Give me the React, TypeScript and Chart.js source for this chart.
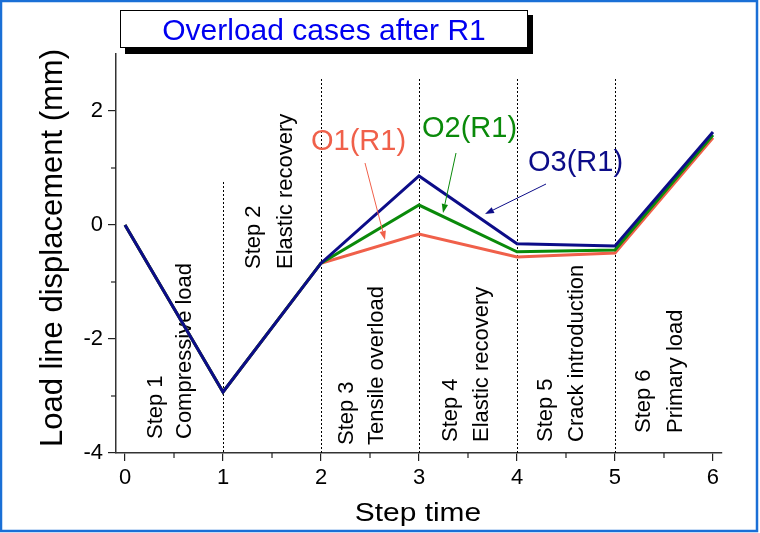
import React, { useEffect, useRef } from "react";
import { Chart, registerables } from "chart.js";

Chart.register(...registerables);

// ---- data ----
const stepTimes = [0, 1, 2, 3, 4, 5, 6];
const o1Values = [0, -2.93, -0.67, -0.16, -0.56, -0.49, 1.53];
const o2Values = [0, -2.93, -0.67, 0.35, -0.47, -0.44, 1.58];
const o3Values = [0, -2.93, -0.67, 0.86, -0.33, -0.37, 1.63];
const xTickValues = [0, 1, 2, 3, 4, 5, 6];
const yTickValues = [-4, -2, 0, 2];
const stepNumbers = ["Step 1", "Step 2", "Step 3", "Step 4", "Step 5", "Step 6"];
const stepNames = [
  "Compressive load",
  "Elastic recovery",
  "Tensile overload",
  "Elastic recovery",
  "Crack introduction",
  "Primary load",
];
const seriesNames = ["O1(R1)", "O2(R1)", "O3(R1)"];
const chartTitle = "Overload cases after R1";
const xTitle = "Step time";
const yTitle = "Load line displacement (mm)";
const dividerSteps = [1, 2, 3, 4, 5];

// ---- layout / style (pixels) ----
const COLORS = { o1: "#f0604a", o2: "#0a8a0a", o3: "#0c0c88", title: "#0000f0", frame: "#1a6fd6" };
const FONT = "Arial, 'Liberation Sans', sans-serif";
// rotated step labels: [line1 baseline x, line2 baseline x, start y]
const stepLabelPos = [
  [162, 191, 439],
  [260, 292, 269],
  [353, 383, 445],
  [457, 488, 442],
  [552, 583, 442],
  [650, 682, 433],
];
const dividerTop = [182, 79, 79, 79, 79];
// annotation text positions [x, baseline y] and arrows [x1,y1,x2,y2]
const seriesLabelPos = [
  [311, 150],
  [422, 137],
  [528, 171],
];
const seriesArrows = [
  [365, 163, 385, 240],
  [456, 153, 443, 213],
  [546, 184, 485, 214],
];

function arrow(ctx: CanvasRenderingContext2D, x1: number, y1: number, x2: number, y2: number, color: string) {
  const ang = Math.atan2(y2 - y1, x2 - x1);
  const hl = 9, hw = 3.2;
  ctx.save();
  ctx.strokeStyle = color;
  ctx.fillStyle = color;
  ctx.lineWidth = 1;
  ctx.beginPath();
  ctx.moveTo(x1, y1);
  ctx.lineTo(x2 - hl * Math.cos(ang), y2 - hl * Math.sin(ang));
  ctx.stroke();
  ctx.beginPath();
  ctx.moveTo(x2, y2);
  ctx.lineTo(x2 - hl * Math.cos(ang) + hw * Math.sin(ang), y2 - hl * Math.sin(ang) - hw * Math.cos(ang));
  ctx.lineTo(x2 - hl * Math.cos(ang) - hw * Math.sin(ang), y2 - hl * Math.sin(ang) + hw * Math.cos(ang));
  ctx.closePath();
  ctx.fill();
  ctx.restore();
}

function rotText(ctx: CanvasRenderingContext2D, text: string, x: number, y: number, font: string, color: string) {
  ctx.save();
  ctx.translate(x, y);
  ctx.rotate(-Math.PI / 2);
  ctx.font = font;
  ctx.fillStyle = color;
  ctx.textAlign = "left";
  ctx.textBaseline = "alphabetic";
  ctx.fillText(text, 0, 0);
  ctx.restore();
}

const decorPlugin = {
  id: "decor",
  beforeDatasetsDraw(chart: any) {
    const ctx: CanvasRenderingContext2D = chart.ctx;
    const xs = chart.scales.x;
    const ys = chart.scales.y;
    const bottom = chart.chartArea.bottom;
    // dotted dividers
    ctx.save();
    ctx.strokeStyle = "#000";
    ctx.lineWidth = 1;
    ctx.setLineDash([2, 2]);
    dividerSteps.forEach((s, i) => {
      const x = Math.round(xs.getPixelForValue(s)) + 0.5;
      ctx.beginPath();
      ctx.moveTo(x, dividerTop[i]);
      ctx.lineTo(x, bottom);
      ctx.stroke();
    });
    ctx.restore();
    // minor ticks
    ctx.save();
    ctx.strokeStyle = "#222";
    ctx.lineWidth = 1.2;
    for (let v = 0.5; v < 6; v += 1) {
      const x = xs.getPixelForValue(v);
      ctx.beginPath();
      ctx.moveTo(x, bottom);
      ctx.lineTo(x, bottom + 5);
      ctx.stroke();
    }
    [-3, -1, 1].forEach((v) => {
      const y = ys.getPixelForValue(v);
      const l = chart.chartArea.left;
      ctx.beginPath();
      ctx.moveTo(l, y);
      ctx.lineTo(l - 5, y);
      ctx.stroke();
    });
    ctx.restore();
    // step labels
    stepNumbers.forEach((t, i) => {
      const p = stepLabelPos[i];
      rotText(ctx, t, p[0], p[2], `22px ${FONT}`, "#000");
      rotText(ctx, stepNames[i], p[1], p[2], `22px ${FONT}`, "#000");
    });
  },
  afterDatasetsDraw(chart: any) {
    const ctx: CanvasRenderingContext2D = chart.ctx;
    const cols = [COLORS.o1, COLORS.o2, COLORS.o3];
    seriesNames.forEach((n, i) => {
      ctx.save();
      ctx.font = `29px ${FONT}`;
      ctx.fillStyle = cols[i];
      ctx.textAlign = "left";
      ctx.textBaseline = "alphabetic";
      ctx.fillText(n, seriesLabelPos[i][0], seriesLabelPos[i][1]);
      ctx.restore();
      const a = seriesArrows[i];
      arrow(ctx, a[0], a[1], a[2], a[3], cols[i]);
    });
    // axis titles
    ctx.save();
    ctx.translate(418, 521);
    ctx.scale(1.15, 1);
    ctx.font = `26px ${FONT}`;
    ctx.fillStyle = "#000";
    ctx.textAlign = "center";
    ctx.textBaseline = "alphabetic";
    ctx.fillText(xTitle, 0, 0);
    ctx.restore();
    ctx.save();
    ctx.translate(62, 248);
    ctx.rotate(-Math.PI / 2);
    ctx.font = `31px ${FONT}`;
    ctx.fillStyle = "#000";
    ctx.textAlign = "center";
    ctx.textBaseline = "alphabetic";
    ctx.fillText(yTitle, 0, 0);
    ctx.restore();
    // title box
    ctx.save();
    ctx.fillStyle = "#000";
    ctx.fillRect(125, 15, 408, 39);
    ctx.fillStyle = "#fff";
    ctx.fillRect(120, 10, 408, 38);
    ctx.strokeStyle = "#000";
    ctx.lineWidth = 1;
    ctx.strokeRect(120.5, 10.5, 407, 37);
    ctx.font = `30px ${FONT}`;
    ctx.fillStyle = COLORS.title;
    ctx.textAlign = "center";
    ctx.textBaseline = "alphabetic";
    ctx.fillText(chartTitle, 324, 40);
    ctx.restore();
    // outer frame
    ctx.save();
    ctx.strokeStyle = COLORS.frame;
    ctx.lineWidth = 2.5;
    ctx.strokeRect(1, 1, 756, 530);
    ctx.restore();
  },
};

export default function App() {
  const ref = useRef<HTMLCanvasElement>(null);
  useEffect(() => {
    const canvas = ref.current!;
    const chart = new Chart(canvas, {
      type: "line",
      data: {
        labels: stepTimes,
        datasets: [
          { label: seriesNames[2], data: stepTimes.map((x, i) => ({ x, y: o3Values[i] })), borderColor: COLORS.o3 },
          { label: seriesNames[1], data: stepTimes.map((x, i) => ({ x, y: o2Values[i] })), borderColor: COLORS.o2 },
          { label: seriesNames[0], data: stepTimes.map((x, i) => ({ x, y: o1Values[i] })), borderColor: COLORS.o1 },
        ].map((d) => ({ ...d, borderWidth: 3, pointRadius: 0, tension: 0, fill: false })),
      },
      options: {
        responsive: false,
        animation: false,
        layout: { padding: { top: 54, right: 38, left: 0, bottom: 0 } },
        plugins: { legend: { display: false }, tooltip: { enabled: false }, title: { display: false } },
        scales: {
          x: {
            type: "linear",
            min: -0.092,
            max: 6.092,
            afterFit: (s: any) => {
              s.height = 80;
            },
            afterBuildTicks: (s: any) => {
              s.ticks = xTickValues.map((v) => ({ value: v }));
            },
            grid: { display: true, drawOnChartArea: false, drawTicks: true, tickLength: 8, color: "#222", lineWidth: 1.2 },
            border: { display: true, color: "#333", width: 1.5 },
            ticks: { color: "#000", font: { family: FONT, size: 22 }, padding: 4, maxRotation: 0 },
          },
          y: {
            type: "linear",
            min: -4,
            max: 3,
            afterFit: (s: any) => {
              s.width = 116;
            },
            afterBuildTicks: (s: any) => {
              s.ticks = yTickValues.map((v) => ({ value: v }));
            },
            grid: { display: true, drawOnChartArea: false, drawTicks: true, tickLength: 8, color: "#222", lineWidth: 1.2 },
            border: { display: true, color: "#333", width: 1.5 },
            ticks: { color: "#000", font: { family: FONT, size: 22 }, padding: 5 },
          },
        },
      },
      plugins: [decorPlugin],
    });
    return () => chart.destroy();
  }, []);
  return (
    <div style={{ position: "fixed", left: 0, top: 0, width: 760, height: 533, background: "#fff" }}>
      <canvas ref={ref} width={760} height={533} />
    </div>
  );
}
